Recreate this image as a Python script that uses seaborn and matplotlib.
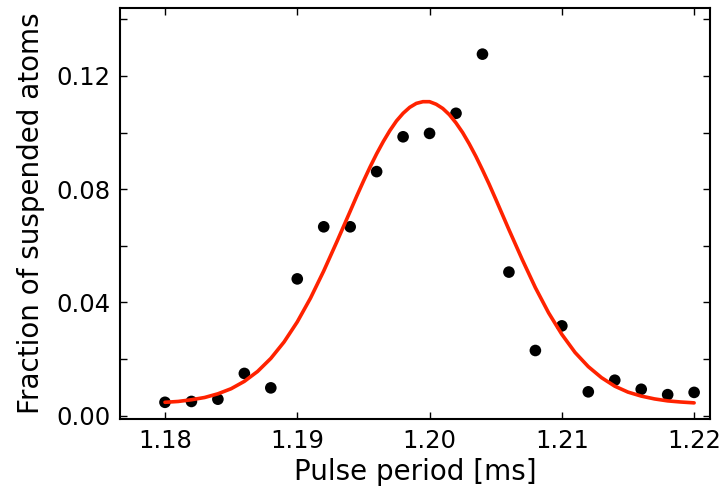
import matplotlib
matplotlib.use('Agg')
import matplotlib.pyplot as plt
import seaborn as sns
import pandas as pd

# measured points
period = [1.180, 1.182, 1.184, 1.186, 1.188, 1.190, 1.192, 1.194, 1.196, 1.198,
          1.200, 1.202, 1.204, 1.206, 1.208, 1.210, 1.212, 1.214, 1.216, 1.218, 1.220]
fraction = [0.0047, 0.0050, 0.0058, 0.0149, 0.0098, 0.0483, 0.0667, 0.0667, 0.0862, 0.0985,
            0.0997, 0.1068, 0.1277, 0.0507, 0.0230, 0.0317, 0.0084, 0.0125, 0.0093, 0.0074, 0.0082]

# fitted curve (denser around the peak)
fit_period = [1.180, 1.181, 1.182, 1.183, 1.184, 1.185, 1.186, 1.187, 1.188, 1.189,
              1.190, 1.191, 1.192, 1.193, 1.194, 1.1945, 1.195, 1.1955, 1.196, 1.1965,
              1.197, 1.1975, 1.198, 1.1985, 1.199, 1.1995, 1.200, 1.2005, 1.201, 1.2015,
              1.202, 1.2025, 1.203, 1.2035, 1.204, 1.2045, 1.205, 1.2055, 1.206, 1.207,
              1.208, 1.209, 1.210, 1.211, 1.212, 1.213, 1.214, 1.215, 1.216, 1.217,
              1.218, 1.219, 1.220]
fit_fraction = [0.0047, 0.0050, 0.0056, 0.0064, 0.0077, 0.0095, 0.0121, 0.0156, 0.0202, 0.0260,
                0.0331, 0.0415, 0.0511, 0.0615, 0.0722, 0.0776, 0.0828, 0.0878, 0.0925, 0.0968,
                0.1007, 0.1041, 0.1068, 0.1089, 0.1103, 0.1109, 0.1109, 0.1100, 0.1085, 0.1063,
                0.1034, 0.1000, 0.0960, 0.0916, 0.0868, 0.0818, 0.0765, 0.0711, 0.0657, 0.0552,
                0.0452, 0.0363, 0.0287, 0.0223, 0.0173, 0.0134, 0.0104, 0.0083, 0.0069, 0.0059,
                0.0052, 0.0048, 0.0045]

xticks = [1.18, 1.19, 1.20, 1.21, 1.22]
yticks = [0.00, 0.02, 0.04, 0.06, 0.08, 0.10, 0.12, 0.14]
ytick_labels = ['0.00', '', '0.04', '', '0.08', '', '0.12', '']

sns.set_style('ticks')
plt.rcParams['font.family'] = ['DejaVu Sans']
plt.rcParams.update({
    'xtick.direction': 'in', 'ytick.direction': 'in',
    'xtick.top': True, 'ytick.right': True,
    'xtick.major.size': 5, 'ytick.major.size': 5,
    'xtick.major.width': 1.0, 'ytick.major.width': 1.0,
    'axes.linewidth': 1.5, 'axes.edgecolor': 'black',
    'text.color': 'black', 'axes.labelcolor': 'black',
    'xtick.color': 'black', 'ytick.color': 'black',
})

df = pd.DataFrame({'period': period, 'fraction': fraction})
fit = pd.DataFrame({'period': fit_period, 'fraction': fit_fraction})

fig = plt.figure(figsize=(7.22, 4.96), dpi=100)
ax = fig.add_axes([120 / 722, 1 - 419 / 496, 590 / 722, 411 / 496])

sns.scatterplot(data=df, x='period', y='fraction', ax=ax, color='black',
                s=70, edgecolor='none', zorder=2)
sns.lineplot(data=fit, x='period', y='fraction', ax=ax, color='#ff2200',
             linewidth=2.6, zorder=3, solid_joinstyle='round', solid_capstyle='round')

ax.set_xlim(1.1766, 1.2212)
ax.set_ylim(-0.0012, 0.144)
ax.set_xticks(xticks)
ax.set_xticklabels([f'{t:.2f}' for t in xticks])
ax.set_yticks(yticks)
ax.set_yticklabels(ytick_labels)
ax.tick_params(labelsize=17.5, pad=7)
ax.set_xlabel('Pulse period [ms]', fontsize=20, labelpad=4)
ax.set_ylabel('Fraction of suspended atoms', fontsize=20, labelpad=8)

fig.savefig('out.png', dpi=100)
